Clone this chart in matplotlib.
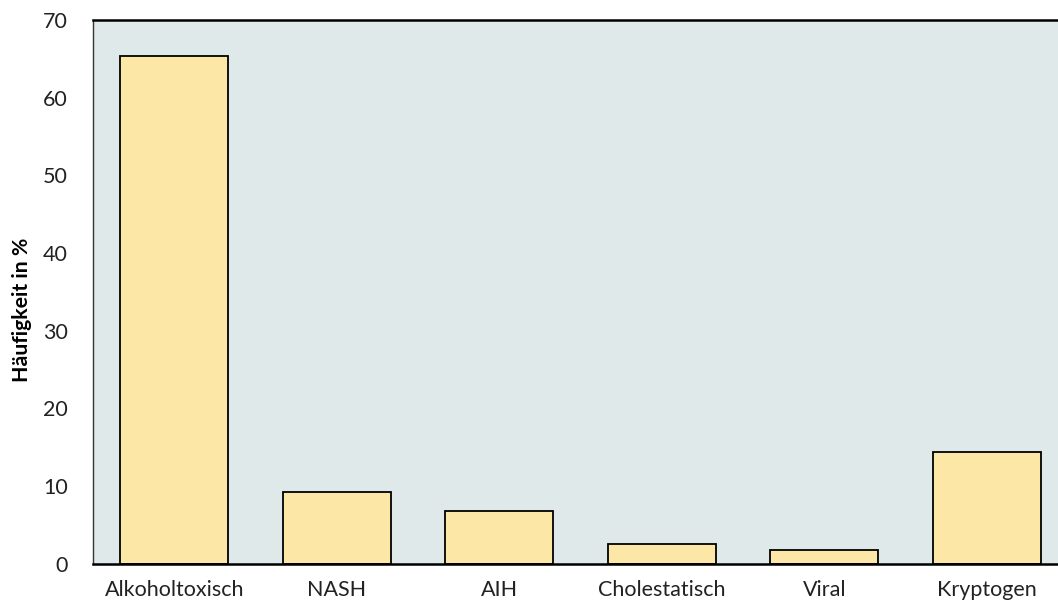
import matplotlib
matplotlib.use("Agg")
import matplotlib.pyplot as plt

categories = ["Alkoholtoxisch", "NASH", "AIH", "Cholestatisch", "Viral", "Kryptogen"]
values = [65.3, 9.25, 6.8, 2.5, 1.7, 14.4]
yticks = [0, 10, 20, 30, 40, 50, 60, 70]
ylabel = "Häufigkeit in %"

plt.rcParams['font.family'] = ['Lato', 'DejaVu Sans']

fig = plt.figure(figsize=(10.58, 6.04), dpi=100)
ax = fig.add_axes([93/1058, 40.5/604, 975/1058, 543.5/604])
ax.set_facecolor('#e0e9ea')

x = list(range(len(categories)))
ax.bar(x, values, width=0.665, color='#fde7a6', edgecolor='black', linewidth=1.3, zorder=2)

ax.set_xlim(-0.5, 5.5)
ax.set_ylim(0, 70)
ax.set_xticks(x)
ax.set_xticklabels(categories, fontsize=15.5, color='#222222')
ax.set_yticks(yticks)
ax.set_yticklabels([str(t) for t in yticks], fontsize=15.5, color='#222222')
ax.tick_params(axis='x', length=0, pad=12)
ax.tick_params(axis='y', length=0, pad=18)
ax.set_ylabel(ylabel, fontsize=15.3, fontweight='bold')
ax.yaxis.set_label_coords(-0.063, 0.466)

for s in ['top', 'bottom']:
    ax.spines[s].set_linewidth(1.8)
    ax.spines[s].set_color('black')
ax.spines['left'].set_linewidth(1.0)
ax.spines['left'].set_color('#333333')
ax.spines['right'].set_visible(False)

fig.savefig('out.png', dpi=100)
